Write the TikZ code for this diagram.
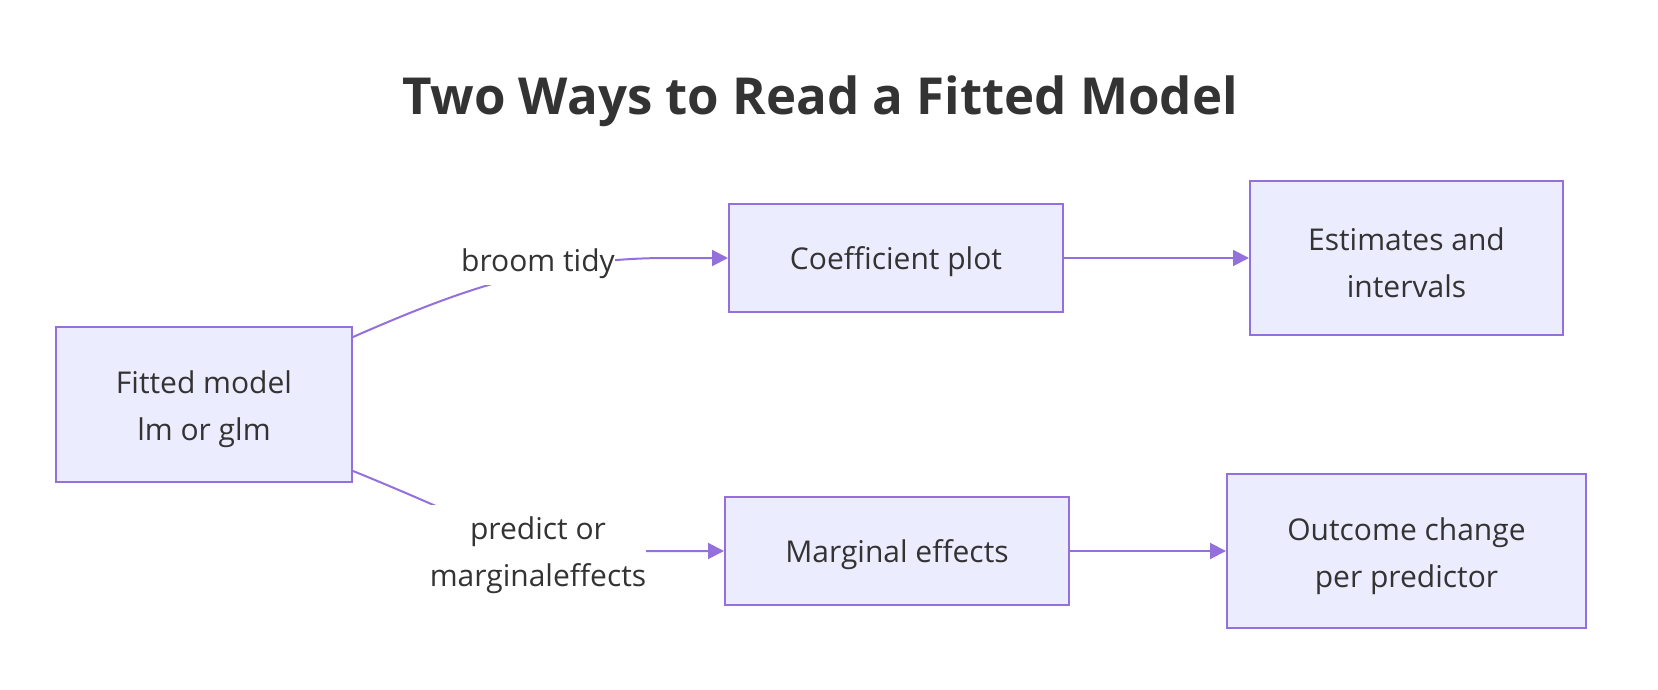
\documentclass[tikz,border=0pt]{standalone}
\usepackage{fontspec}
\setmainfont{Open Sans}
\usetikzlibrary{arrows.meta}
\definecolor{boxfill}{HTML}{ECECFF}
\definecolor{boxline}{HTML}{9370DB}
\definecolor{txt}{HTML}{333333}
\begin{document}
\begin{tikzpicture}[x=1pt,y=-1pt,
  box/.style={draw=boxline, fill=boxfill, line width=2pt, inner sep=0pt, text=txt,
    font=\fontsize{30}{47}\selectfont, align=center},
  oneline/.style={box, text height=31pt},
  twoline/.style={box, text height=80pt},
  lbl/.style={fill=white, inner xsep=0pt, text=txt,
    font=\fontsize{30}{47}\selectfont, align=center},
  link/.style={draw=boxline, line width=2pt, -{Triangle[length=16pt,width=16pt]}},
]
\useasboundingbox (0,0) rectangle (1658,690);
\node[text=txt, font=\bfseries\fontsize{51}{60}\selectfont, anchor=base] (title) at (820,115) {Two Ways to Read a Fitted Model};

\node[twoline, minimum width=296pt, minimum height=155pt] (fit) at (204,404.5) {Fitted model\\lm or glm};
\node[oneline, minimum width=334pt, minimum height=108pt] (coef) at (896,258) {Coefficient plot};
\node[twoline, minimum width=313pt, minimum height=154pt] (est) at (1406.5,258) {Estimates and\\intervals};
\node[oneline, minimum width=344pt, minimum height=108pt] (marg) at (897,551) {Marginal effects};
\node[twoline, minimum width=359pt, minimum height=154pt] (out) at (1406.5,551) {Outcome change\\per predictor};

\draw[link] ([yshift=-11pt]fit.north east) .. controls (410,312) and (460,292) .. (510,279)
  .. controls (560,266) and (600,259) .. (660,258) -- (coef.west);
\draw[link] ([yshift=12pt]fit.south east) .. controls (400,490) and (440,508) .. (480,525)
  .. controls (530,545) and (580,551) .. (640,551) -- (marg.west);
\draw[link] (coef.east) -- (est.west);
\draw[link] (marg.east) -- (out.west);

\node[lbl, inner ysep=6pt] (l1) at (538,264) {broom tidy};
\node[lbl, inner ysep=12pt] (l2) at (538,555) {predict or\\marginaleffects};
\end{tikzpicture}
\end{document}
